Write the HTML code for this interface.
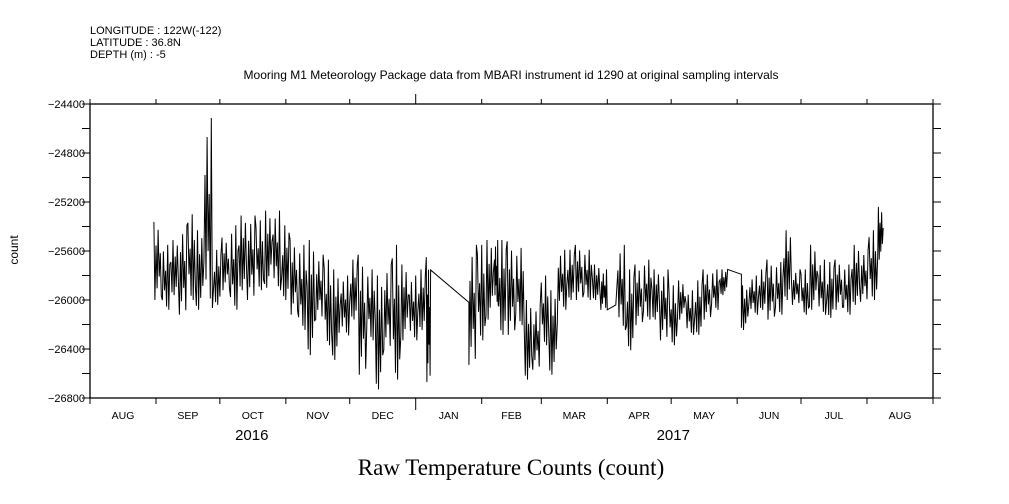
<!DOCTYPE html>
<html><head><meta charset="utf-8"><style>
body{margin:0;background:#fff;}
svg{display:block;font-family:"Liberation Sans",sans-serif;}
</style></head><body>
<svg width="1009" height="504" viewBox="0 0 1009 504" id="svg">
<g font-size="11" fill="#000">
<text x="90" y="34">LONGITUDE : 122W(-122)</text>
<text x="90" y="46">LATITUDE : 36.8N</text>
<text x="90" y="58">DEPTH (m) : -5</text>
</g>
<text x="511" y="79" text-anchor="middle" font-size="12">Mooring M1 Meteorology Package data from MBARI instrument id 1290 at original sampling intervals</text>
<text transform="translate(18,250) rotate(-90)" text-anchor="middle" font-size="12">count</text>
<text x="511" y="475" text-anchor="middle" font-size="23" font-family="Liberation Serif,serif">Raw Temperature Counts (count)</text>
<rect x="90" y="104" width="843" height="294" fill="none" stroke="#000" stroke-width="1.3"/>
<g id="axes"></g>
<g id="series"></g>
</svg>
<script>
const yTicks=[-24400,-24800,-25200,-25600,-26000,-26400,-26800];
const monthLabels=["AUG","SEP","OCT","NOV","DEC","JAN","FEB","MAR","APR","MAY","JUN","JUL","AUG"];
const monthStartDays=[0,31,61,92,122,153,184,212,243,273,304,334,365,396];
const years=[{label:"2016",day:76},{label:"2017",day:274}];
const binDays=[30,34,38,42,46,50,54,58,62,66,70,74,78,82,86,90,94,98,102,106,110,114,118,122,126,130,134,138,142,146,150,154,158,160,178,178,182,186,190,192,196,200,204,208,212,216,220,224,228,232,236,240,243,247,248,252,256,260,264,268,272,276,280,284,288,292,296,299.5,306,306,310,314,318,322,326,330,334,338,342,346,350,354,358,362,366,370];
const binHi=[-25363,-25550,-25510,-25390,-25300,-25430,-24514,-25590,-25490,-25390,-25310,-25310,-25350,-25270,-25270,-25390,-25510,-25550,-25510,-25630,-25670,-25750,-25800,-25670,-25630,-25750,-25800,-25710,-25550,-25710,-25800,-25750,-25650,-25755,-26020,-25550,-25550,-25510,-25510,-25510,-25520,-25575,-26000,-26040,-25800,-25920,-25590,-25590,-25550,-25590,-25710,-25750,-26080,-26040,-25550,-25750,-25710,-25670,-25750,-25750,-25880,-25840,-25920,-25840,-25750,-25750,-25750,-25750,-25790,-25880,-25800,-25750,-25670,-25690,-25430,-25750,-25750,-25550,-25670,-25690,-25670,-25710,-25550,-25590,-25430,-25240];
const binLo=[-26000,-26080,-25960,-26120,-26000,-26080,-26065,-26040,-25920,-26080,-25920,-26000,-25920,-25900,-25920,-26000,-26120,-26245,-26450,-26160,-26370,-26490,-26290,-26160,-26610,-26330,-26730,-26410,-26650,-26330,-26330,-26245,-26670,-25755,-26020,-26530,-26330,-26160,-26040,-26285,-26285,-26205,-26650,-26570,-26370,-26610,-26080,-26000,-26000,-26000,-26000,-26080,-26080,-26040,-26245,-26410,-26205,-26160,-26160,-26330,-26370,-26160,-26285,-26285,-26160,-26080,-25960,-25750,-25790,-26245,-26120,-26080,-26160,-26120,-26000,-26040,-26120,-26080,-26120,-26145,-26080,-26120,-26040,-26015,-26000,-25670];
const NS="http://www.w3.org/2000/svg";
const X0=90,X1=933,Y0=104,Y1=398;
function xs(d){return X0+(X1-X0)*d/396;}
function ys(v){return Y0+(Y1-Y0)*(-24400-v)/2400;}
function mk(t,a,p){const e=document.createElementNS(NS,t);for(const k in a)e.setAttribute(k,a[k]);p.appendChild(e);return e;}
const ax=document.getElementById('axes');
for(let v=-24400;v>=-26800;v-=200){
  const y=ys(v);
  const t1=mk('line',{x1:X0-8,x2:X0,y1:y,y2:y,stroke:'#000','stroke-width':1},ax);
  
  
  const t2=mk('line',{x1:X1,x2:X1+8,y1:y,y2:y,stroke:'#000','stroke-width':1},ax);
  
  
}
yTicks.forEach(v=>{
  const t=mk('text',{x:X0-5,y:ys(v)+4,'text-anchor':'end','font-size':11},ax);
  t.textContent=String(v).replace('-','\u2212');
  
  
});
monthStartDays.forEach((d,i)=>{
  const x=xs(d);const big=(d===153);
  const a=mk('line',{x1:x,x2:x,y1:Y0-(big?10:5),y2:Y0,stroke:'#000'},ax);
  
  
  const b=mk('line',{x1:x,x2:x,y1:Y1,y2:Y1+(big?12:6),stroke:'#000'},ax);
  
  
});
monthLabels.forEach((m,i)=>{
  const x=(xs(monthStartDays[i])+xs(monthStartDays[i+1]))/2;
  const t=mk('text',{x:x,y:419,'text-anchor':'middle','font-size':10.5},ax);
  t.textContent=m;
  
  
});
years.forEach(yr=>{
  const t=mk('text',{x:xs(yr.day),y:440,'text-anchor':'middle','font-size':15},ax);
  t.textContent=yr.label;
  
  
});
const pat=[1,0,0.7,0.15,0.9,0.3,0.6,0.05];
let pts=[];
for(let i=0;i<binDays.length;i++){
  const d=binDays[i],hi=binHi[i],lo=binLo[i];
  if(hi===lo){pts.push([xs(d),ys(hi)]);continue;}
  const next=i+1<binDays.length?binDays[i+1]:d+3;
  const w=Math.max(0.5,next-d);
  for(let k=0;k<pat.length;k++){
    const v=lo+(hi-lo)*pat[(k+i*3)%pat.length];
    pts.push([xs(d+w*k/pat.length),ys(v)]);
  }
}
const pl=mk('polyline',{points:pts.map(p=>p[0].toFixed(1)+','+p[1].toFixed(1)).join(' '),fill:'none',stroke:'#000','stroke-width':1},document.getElementById('series'));


</script>
</body></html>
